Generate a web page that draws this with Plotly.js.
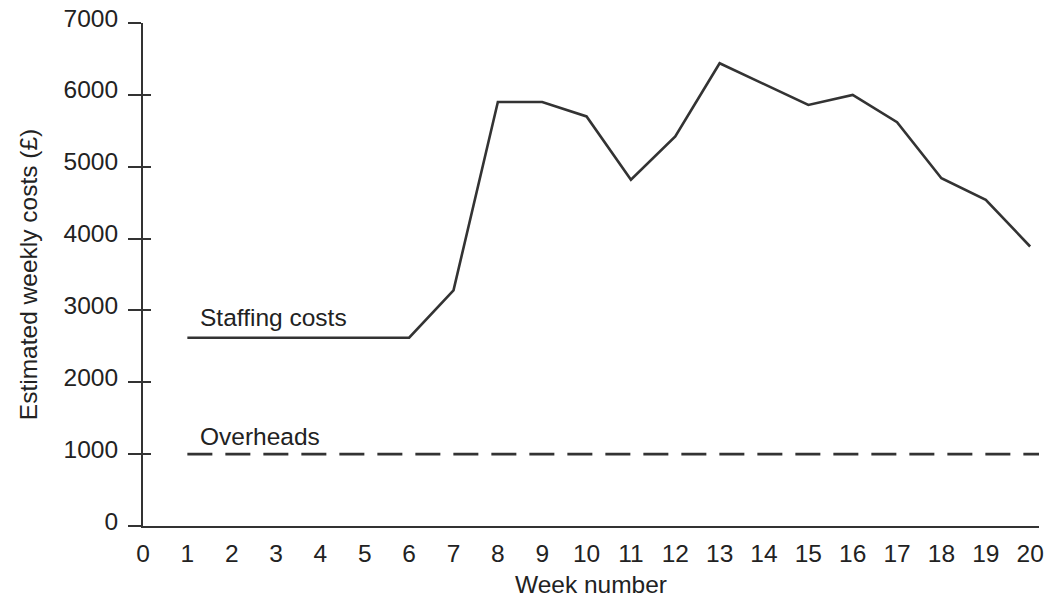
<!DOCTYPE html>
<html>
<head>
<meta charset="utf-8">
<script src="https://cdn.plot.ly/plotly-3.0.1.min.js"></script>
<style>html,body{margin:0;padding:0;background:#fff;}#chart{width:1053px;height:598px;}</style>
</head>
<body>
<div id="chart"></div>
<script>
const weeks = [1,2,3,4,5,6,7,8,9,10,11,12,13,14,15,16,17,18,19,20];
const staffingCosts = [2620,2620,2620,2620,2620,2620,3280,5900,5900,5700,4820,5420,6440,6150,5860,6000,5620,4840,4540,3890];
const overheads = [1000,1000,1000,1000,1000,1000,1000,1000,1000,1000,1000,1000,1000,1000,1000,1000,1000,1000,1000,1000];
const xTicks = [0,1,2,3,4,5,6,7,8,9,10,11,12,13,14,15,16,17,18,19,20];
const yTicks = [0,1000,2000,3000,4000,5000,6000,7000];
const seriesNames = ['Staffing costs','Overheads'];

const ink = '#333333';
const font = {family:'"Liberation Sans", Arial, sans-serif', size:24.5, color:'#222222'};

const traces = [
  {x:weeks, y:staffingCosts, type:'scatter', mode:'lines', name:seriesNames[0],
   line:{color:ink, width:2.6}, hoverinfo:'skip'},
  {x:weeks.concat([20.2]), y:overheads.concat([overheads[overheads.length-1]]), type:'scatter', mode:'lines', name:seriesNames[1],
   yaxis:'y2', line:{color:ink, width:2.6, dash:'25px,13px'}, hoverinfo:'skip'}
];

const layout = {
  width:1053, height:598,
  margin:{l:143, r:14, t:23, b:72},
  paper_bgcolor:'#fff', plot_bgcolor:'#fff',
  showlegend:false,
  font:font,
  xaxis:{range:[0,20.2], tickvals:xTicks, ticktext:xTicks.map(String), ticks:'', showgrid:false,
    zeroline:false, showline:true, linecolor:ink, linewidth:2, tickfont:font, ticklabelstandoff:5,
    automargin:false, title:{text:'Week number', font:font, standoff:10}},
  yaxis:{range:[0,7000], tickvals:yTicks, ticktext:yTicks.map(String), ticks:'outside', ticklen:13, tickwidth:2,
    tickcolor:ink, showgrid:false, zeroline:false, showline:true, linecolor:ink, linewidth:2, tickfont:font,
    ticklabelstandoff:5, ticklabelshift:-5, automargin:false,
    title:{text:'Estimated weekly costs (£)', font:font, standoff:19}},
  yaxis2:{overlaying:'y', matches:'y', range:[0,7000], tickvals:yTicks, ticks:'inside', ticklen:8, tickwidth:2,
    tickcolor:ink, showticklabels:false, showgrid:false, zeroline:false, showline:false},
  annotations:[
    {x:1.25, y:2900, xref:'x', yref:'y', xanchor:'left', yanchor:'middle', text:seriesNames[0], showarrow:false, font:font},
    {x:1.25, y:1240, xref:'x', yref:'y', xanchor:'left', yanchor:'middle', text:seriesNames[1], showarrow:false, font:font}
  ]
};

Plotly.newPlot('chart', traces, layout, {staticPlot:true, displayModeBar:false});
</script>
</body>
</html>
